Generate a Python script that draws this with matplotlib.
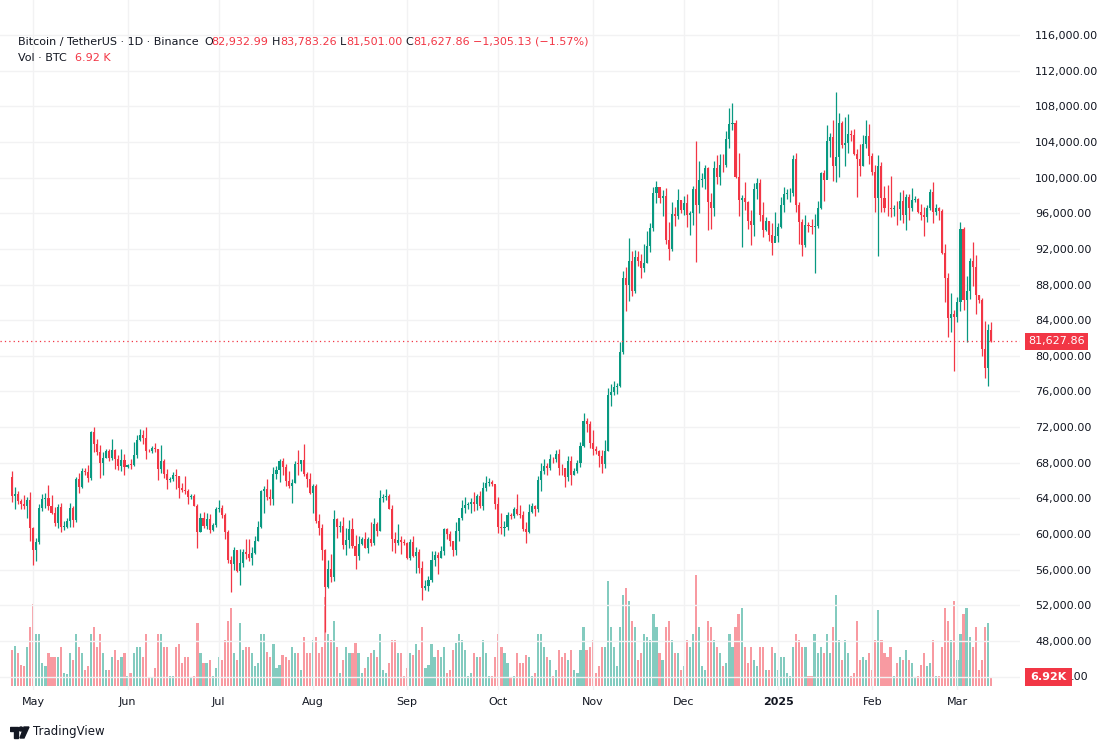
import datetime as dt
import matplotlib
matplotlib.use("Agg")
import matplotlib.pyplot as plt
import matplotlib.transforms as mtransforms
from matplotlib.patches import Rectangle, Circle, Polygon

# BTCUSDT daily, 2024-04-24 .. 2025-03-12 (last candle still open)
start_date = dt.date(2024, 4, 24)
first_open = 66408

close = [
    # Apr 24-30
    64277, 64481, 63756, 63419, 63113, 63841, 60636,
    # May
    58254, 59123, 62889, 63891, 64031, 63161, 62334, 61187, 63049, 60793,
    60825, 61484, 62940, 61577, 66206, 65235, 67024, 66915, 66274, 71446,
    70148, 69166, 67969, 68549, 69290, 68508, 69436, 68398, 67652, 68352, 67540,
    # Jun
    67766, 67765, 68809, 70567, 71082, 70757, 69342, 69305, 69648, 69508,
    67321, 68243, 66756, 66012, 66191, 66640, 66490, 65140, 64960, 64828,
    64096, 64252, 63180, 60277, 61806, 60864, 61706, 60427, 60986, 62772,
    # Jul
    62900, 62100, 60198, 57047, 56660, 58230, 55849, 56705, 58009, 57725,
    57344, 57899, 59231, 60787, 64870, 65097, 64118, 63974, 66710, 67164,
    68165, 67532, 65936, 65372, 65777, 67907, 67897, 68249, 66784, 66188, 64619,
    # Aug
    65354, 61498, 60697, 58161, 54018, 56022, 55134, 61685, 60837, 60923,
    58713, 59346, 60587, 58683, 57542, 58874, 59491, 58427, 59438, 59013,
    61157, 60381, 64094, 64178, 64220, 62834, 59416, 59034, 59359, 59123, 58974,
    # Sep
    57301, 59132, 57487, 57970, 56160, 53962, 54160, 54869, 57050, 57648,
    57343, 58127, 60571, 60005, 59182, 58192, 60309, 61759, 62947, 63201,
    63348, 63578, 63339, 64262, 63152, 65173, 65769, 65858, 65602, 63327,
    # Oct
    60805, 60650, 60752, 62086, 62058, 62819, 62224, 62131, 60582, 60275,
    62445, 63193, 62851, 66046, 67041, 67612, 67399, 68418, 68362, 69001,
    67367, 67361, 66432, 68161, 66642, 67014, 67929, 69907, 72720, 72339, 70215,
    # Nov
    69482, 69289, 68742, 67811, 69359, 75639, 75904, 76538, 76649, 80475,
    88701, 87955, 90584, 87250, 91031, 90586, 89855, 90464, 92310, 94286,
    98317, 98892, 97672, 97900, 93010, 91965, 95864, 95643, 97460, 96407,
    # Dec
    97185, 95840, 96002, 98768, 96953, 99740, 99831, 101109, 97276, 96593,
    101125, 100043, 101459, 101372, 104298, 106029, 106140, 100041, 97490, 97756,
    97224, 95105, 94686, 98676, 99400, 95795, 94165, 95163, 93530, 92643, 93429,
    # Jan
    94419, 96887, 98107, 98236, 98314, 102078, 96922, 95043, 92484, 94701,
    94566, 94488, 94516, 96534, 100504, 99756, 104078, 104556, 101331, 102260,
    106143, 103706, 103910, 104870, 104746, 102620, 102082, 101335, 103733, 104722, 102429,
    # Feb
    100635, 97700, 101328, 97763, 96613, 96555, 96482, 96500, 96444, 97391,
    95760, 97838, 96586, 97508, 97580, 96175, 95773, 95539, 96635, 98334,
    96125, 96577, 96273, 91552, 88680, 84250, 84708, 84349,
    # Mar
    86064, 94270, 86220, 87281, 90606, 89931, 86801, 86222, 80734, 78595,
    82932.99, 81627.86,
]

high = [
    67075, 65275, 64789, 63923, 64320, 64200, 64734,
    60780, 59602, 63320, 64494, 64610, 65500, 64422, 62995, 63400, 63469,
    61490, 61818, 63450, 63118, 66444, 66800, 67400, 67450, 67700, 71515,
    71979, 70625, 70041, 69250, 69562, 69508, 70687, 69560, 68900, 69500, 69000,
    67900, 68450, 70288, 71063, 71758, 71625, 71997, 69563, 69859, 70195,
    69570, 70000, 68450, 67298, 66445, 66946, 67240, 66500, 65723, 66482,
    65066, 64522, 64527, 63369, 62350, 62480, 62375, 62200, 61229, 63000,
    63861, 63306, 62300, 60500, 57500, 58500, 58237, 58278, 58300, 59444,
    59400, 58500, 59800, 61420, 64900, 65388, 66128, 65100, 67487, 67614,
    68372, 68480, 67800, 67100, 66150, 68233, 69399, 68318, 70079, 66990, 66860,
    65600, 65600, 62200, 61100, 58305, 57040, 57720, 62745, 61744, 61470,
    61858, 60680, 61572, 61800, 59849, 59790, 59648, 60262, 59616, 61400,
    61820, 61400, 64955, 64513, 65000, 64480, 63210, 60230, 61166, 59800, 59450,
    59062, 59400, 59815, 58519, 58327, 56995, 54850, 55300, 58088, 58044,
    57991, 58600, 60670, 60660, 60380, 59210, 61320, 61786, 63850, 64133,
    63560, 64000, 64745, 64480, 64817, 65839, 66498, 66260, 66076, 65550,
    64130, 62392, 61470, 62484, 62370, 63000, 64478, 63198, 62543, 61321,
    63417, 63480, 63285, 66500, 67950, 68424, 67939, 68969, 68693, 69400,
    69500, 67836, 67450, 68800, 68775, 67414, 68340, 70270, 73620, 72961, 72700,
    71632, 69914, 69400, 69480, 70577, 76400, 76849, 77199, 76927, 81500,
    89530, 89956, 93265, 91790, 91850, 91800, 91449, 92594, 94002, 94902,
    98974, 99588, 98767, 98564, 98871, 94973, 97208, 96650, 98693, 97499,
    97900, 98150, 96297, 99000, 104088, 101898, 100550, 101399, 101215, 98270,
    101895, 102540, 102650, 102650, 105250, 107793, 108353, 106470, 102800, 98100,
    99540, 97360, 96416, 99404, 99963, 99884, 97294, 95525, 95174, 94903, 96150,
    94929, 97839, 98976, 98734, 98813, 102482, 102712, 97258, 95349, 95837,
    94977, 95360, 95900, 97371, 100681, 100873, 105865, 104988, 106422, 109588,
    107240, 106327, 106850, 107120, 105286, 105500, 103220, 103783, 104800, 106457, 106012,
    102783, 101456, 102500, 101730, 99000, 99120, 100137, 96880, 97323, 98345,
    98564, 98119, 98117, 98826, 97970, 97732, 97040, 96753, 96899, 98711,
    99508, 96980, 96670, 96503, 92540, 89286, 87078, 85120,
    86558, 95000, 94416, 88911, 91000, 92810, 91283, 86876, 86500, 83955,
    83617, 83783.26,
]

low = [
    63589, 62783, 63322, 62824, 62793, 61765, 59191,
    56552, 56937, 58848, 62599, 62955, 62700, 62261, 60888, 60648, 60187,
    60492, 60631, 60750, 60760, 61330, 64600, 65106, 66600, 65857, 66060,
    69162, 68900, 66312, 66622, 68522, 68183, 68250, 67300, 67125, 67118, 66670,
    67428, 67300, 67612, 68567, 70383, 70119, 68420, 69209, 69125, 69230,
    66051, 66900, 66250, 65078, 65885, 66002, 65000, 64060, 64693, 64500,
    63379, 63940, 63154, 58402, 60250, 60661, 60600, 60103, 60365, 60765,
    62500, 61768, 59402, 56771, 53485, 56000, 55762, 54260, 56302, 57143,
    57000, 56555, 57770, 59230, 60632, 62400, 63850, 63238, 63300, 66223,
    65800, 66577, 65400, 65120, 63450, 65750, 66666, 67066, 66500, 65300, 64530,
    62300, 61200, 59850, 57122, 49000, 53962, 54561, 54732, 59535, 60242,
    58286, 57650, 58478, 58433, 56078, 57068, 58783, 58410, 57864, 58610,
    58783, 59720, 60345, 63566, 63780, 62800, 58116, 57860, 58753, 57752, 58745,
    57201, 57120, 57415, 55606, 55643, 52550, 53745, 53653, 54591, 56386,
    55545, 57324, 57631, 59451, 58696, 57493, 57610, 59174, 61555, 62350,
    62760, 62357, 62538, 62700, 62947, 62670, 64819, 65420, 65425, 62856,
    60164, 59981, 59828, 60459, 61689, 61819, 62128, 61824, 60300, 58946,
    60060, 62400, 62044, 62442, 64800, 66750, 66666, 67177, 68015, 68100,
    66571, 66571, 65260, 66000, 65520, 66570, 66800, 67500, 69730, 71436, 69685,
    68820, 69000, 67478, 66835, 67458, 69322, 74416, 75555, 75712, 76492,
    80216, 85072, 86127, 86668, 87073, 90094, 88722, 89376, 90389, 91619,
    94043, 97122, 97175, 95734, 92600, 90791, 91792, 94610, 95407, 96000,
    95770, 94500, 93578, 94660, 90500, 95981, 98990, 98692, 94150, 94256,
    95700, 99311, 99205, 100626, 101227, 103333, 105321, 100000, 95700, 92175,
    96398, 94202, 92403, 93448, 97595, 95137, 93380, 94014, 92881, 91317, 92900,
    92807, 94392, 96100, 97562, 97291, 97926, 96132, 92500, 91220, 92207,
    93840, 93712, 89256, 94322, 96500, 97335, 99950, 102277, 99651, 99550,
    100119, 103321, 101262, 102750, 104106, 102520, 97777, 100233, 101328, 103278, 101560,
    100279, 96150, 91231, 96150, 96150, 95676, 95620, 95688, 94713, 95256,
    94876, 94088, 95217, 96252, 97223, 96053, 95205, 93388, 95026, 96415,
    94871, 95770, 95270, 91371, 86050, 82131, 82716, 78258,
    83824, 85050, 85117, 81529, 86336, 87836, 84667, 85890, 80000, 77459,
    76606, 81501,
]

# volume, thousands of BTC
volume_k = [
    28, 31, 25, 16, 15, 30, 45,
    63, 40, 40, 18, 15, 25, 22, 22, 22, 30, 10, 9, 25, 20, 40, 30, 25, 12, 15, 40,
    45, 30, 40, 25, 12, 12, 22, 28, 20, 22, 25,
    8, 10, 25, 30, 30, 22, 40, 6, 6, 14, 40, 40, 30, 30, 8, 8, 30, 32, 18, 22,
    22, 6, 8, 48, 25, 18, 18, 20, 8, 14,
    22, 20, 35, 50, 60, 25, 20, 48, 28, 30, 30, 25, 15, 18, 40, 40, 26, 22, 32, 14,
    16, 24, 22, 20, 30, 25, 25, 12, 38, 25, 25,
    35, 38, 25, 30, 68, 40, 35, 50, 30, 10, 20, 30, 25, 25, 33, 25, 10, 14, 22, 25,
    28, 22, 40, 12, 10, 18, 35, 35, 25, 25, 8,
    14, 25, 24, 32, 28, 45, 14, 16, 32, 22, 28, 22, 30, 10, 12, 28, 33, 40, 35, 28,
    8, 10, 25, 22, 22, 35, 25, 8, 8, 22,
    40, 30, 25, 18, 6, 8, 25, 18, 18, 24, 22, 8, 10, 40, 40, 30, 22, 20, 8, 12,
    28, 22, 25, 20, 28, 12, 10, 28, 45, 28, 30,
    35, 10, 15, 30, 30, 81, 45, 30, 15, 45, 70, 75, 65, 50, 45, 20, 25, 40, 38, 35,
    55, 45, 25, 20, 45, 50, 35, 25, 25, 12,
    15, 35, 30, 40, 85, 45, 15, 12, 50, 45, 35, 30, 25, 15, 18, 40, 30, 45, 55, 60,
    30, 18, 30, 20, 15, 30, 30, 12, 12, 30, 25,
    12, 22, 22, 10, 8, 30, 40, 35, 30, 30, 8, 8, 40, 25, 30, 25, 40, 25, 45, 70,
    35, 20, 35, 25, 8, 10, 50, 20, 22, 20, 25,
    12, 35, 58, 35, 25, 22, 30, 8, 18, 22, 20, 28, 20, 18, 6, 8, 16, 25, 15, 18,
    35, 8, 8, 30, 60, 50, 35, 65,
    20, 40, 55, 60, 38, 30, 45, 12, 20, 45, 48, 6.92,
]

month_labels = ["May", "Jun", "Jul", "Aug", "Sep", "Oct", "Nov", "Dec", "2025", "Feb", "Mar"]
month_starts = [dt.date(2024, m, 1) for m in range(5, 13)] + [dt.date(2025, m, 1) for m in (1, 2, 3)]
price_ticks = list(range(48000, 116001, 4000))
grid_levels = [44000] + price_ticks

n = len(close)
assert len(high) == n and len(low) == n and len(volume_k) == n
opens = [first_open] + close[:-1]
xs = list(range(n))

UP = "#089981"
DOWN = "#F23645"
TXT = "#131722"
GRID = "#f2f2f3"

plt.rcParams["font.family"] = ["DejaVu Sans"]
fig = plt.figure(figsize=(11.12, 7.5), dpi=100)
W, H = 1112, 750
ax = fig.add_axes([0, 60 / H, 1020 / W, 690 / H])
vax = ax.twinx()

px_day = 3.04
ax.set_xlim(-12 / px_day, (1020 - 12) / px_day)
ax.set_ylim(42490, 119930)
vax.set_ylim(-3.1, 527)

cols = [UP if c >= o else DOWN for o, c in zip(opens, close)]

# volume
vcols = [(0.031, 0.6, 0.506, 0.5) if c == UP else (0.949, 0.212, 0.271, 0.5) for c in cols]
vax.bar(xs, volume_k, width=0.7, color=vcols, linewidth=0)
vax.set_yticks([])

# candles
ax.vlines(xs, low, high, colors=cols, linewidth=0.9, zorder=3)
bodies = [max(abs(c - o), 60) for o, c in zip(opens, close)]
bottoms = [min(o, c) for o, c in zip(opens, close)]
ax.bar(xs, bodies, bottom=bottoms, width=0.68, color=cols, linewidth=0, zorder=4)

# grid
for p in grid_levels:
    ax.axhline(p, color=GRID, lw=1, zorder=0)
month_idx = [(d - start_date).days for d in month_starts]
for i in month_idx:
    ax.axvline(i, color=GRID, lw=1, zorder=0)

ax.set_zorder(vax.get_zorder() + 1)
ax.patch.set_visible(False)

for a in (ax, vax):
    for s in a.spines.values():
        s.set_visible(False)

ax.yaxis.tick_right()
ax.set_yticks(price_ticks)
ax.set_yticklabels([f"{p:,.2f}" for p in price_ticks], fontsize=8, color=TXT)
ax.tick_params(axis="y", length=0, pad=11)
ax.set_xticks(month_idx)
ax.set_xticklabels(month_labels, fontsize=8, color=TXT)
for lbl in ax.get_xticklabels():
    if lbl.get_text() == "2025":
        lbl.set_fontweight("bold")
ax.tick_params(axis="x", length=0, pad=5)

# last price line and label
last = close[-1]
ax.axhline(last, color=DOWN, lw=0.9, ls=(0, (1, 2.5)), zorder=5)
tr = mtransforms.blended_transform_factory(ax.transAxes, ax.transData)
ax.text(1.0 + 8 / 1020, last, f"{last:,.2f}", transform=tr, fontsize=8, color="white",
        va="center", ha="left", clip_on=False,
        bbox=dict(boxstyle="square,pad=0.3", fc=DOWN, ec="none"))

# volume label box sits on the 44,000 level; only ".00" of that label peeks out
vy = 1 - 677 / H
fig.patches.append(Rectangle((1025 / W, vy - 9 / H), 47 / W, 18 / H, transform=fig.transFigure,
                             facecolor=DOWN, edgecolor="none", zorder=10))
fig.text(1048.5 / W, vy, f"{volume_k[-1]:.2f}K", fontsize=8, color="white", fontweight="bold",
         ha="center", va="center", zorder=11)
fig.text(1088 / W, vy, ".00", fontsize=8, color=TXT, ha="right", va="center")

# header
o_l, h_l, l_l, c_l = opens[-1], high[-1], low[-1], close[-1]
chg = c_l - o_l
pct = chg / o_l * 100
y1 = 1 - 42 / H
fig.text(18 / W, y1, "Bitcoin / TetherUS · 1D · Binance", fontsize=8, color=TXT, va="center")
parts = [("O", 204, TXT), (f"{o_l:,.2f}", 211, DOWN),
         ("H", 272, TXT), (f"{h_l:,.2f}", 280, DOWN),
         ("L", 340, TXT), (f"{l_l:,.2f}", 346, DOWN),
         ("C", 405, TXT), (f"{c_l:,.2f}", 413, DOWN),
         (f"\u2212{abs(chg):,.2f} (\u2212{abs(pct):.2f}%)", 473, DOWN)]
for t, x, c in parts:
    fig.text(x / W, y1, t, fontsize=8, color=c, va="center")
y2 = 1 - 58 / H
fig.text(18 / W, y2, "Vol · BTC", fontsize=8, color=TXT, va="center")
fig.text(75 / W, y2, f"{volume_k[-1]:.2f} K", fontsize=8, color=DOWN, va="center")

# TradingView logo
lax = fig.add_axes([10 / W, (750 - 740) / H, 20 / W, 16 / H])
lax.set_xlim(0, 20)
lax.set_ylim(0, 16)
lax.axis("off")
lax.add_patch(Rectangle((0, 9), 8, 4, color=TXT))
lax.add_patch(Rectangle((4, 2), 4, 8, color=TXT))
lax.add_patch(Circle((11, 11), 2, color=TXT))
lax.add_patch(Polygon([[14, 13], [19, 13], [14, 2], [10, 2]], color=TXT))
fig.text(33 / W, 1 - 732 / H, "TradingView", fontsize=8.5, color=TXT, va="center")

fig.savefig("out.png", dpi=100, facecolor="white")
